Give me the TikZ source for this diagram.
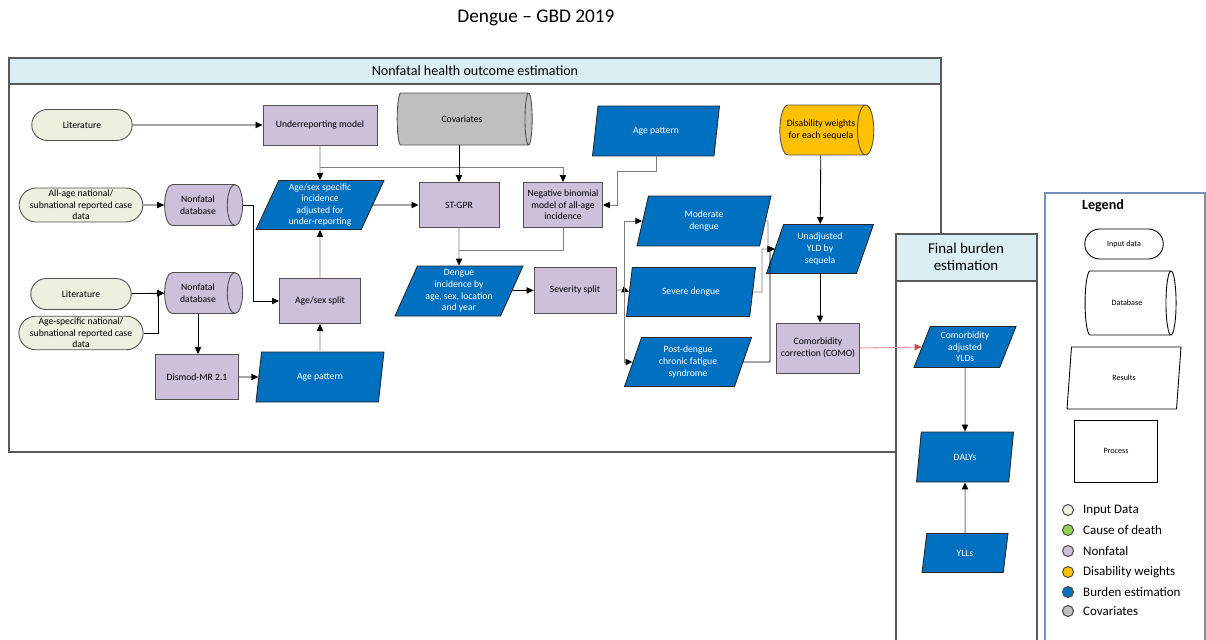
\documentclass[tikz,border=0pt]{standalone}
\usepackage{fontspec}
\setmainfont{Carlito}
\usepackage{tikz}
\usetikzlibrary{shapes.geometric, shapes.misc, arrows.meta, positioning}

\definecolor{inputc}{HTML}{EBF1DE}
\definecolor{codc}{HTML}{92D050}
\definecolor{nonfatalc}{HTML}{CCC0DA}
\definecolor{dwc}{HTML}{FFC000}
\definecolor{burdenc}{HTML}{0070C0}
\definecolor{covc}{HTML}{BFBFBF}
\definecolor{headc}{HTML}{DAEEF3}
\definecolor{bordc}{HTML}{505050}
\definecolor{lineg}{HTML}{7F7F7F}
\definecolor{legc}{HTML}{7391BD}
\definecolor{comoc}{HTML}{E6A3A3}
\definecolor{comotip}{HTML}{C0504D}

\newcommand{\flowfont}{\fontsize{5.5}{6.6}\selectfont}
\newcommand{\legfont}{\fontsize{4.6}{5.6}\selectfont}

\tikzstyle{inputdata} = [rounded rectangle, 
minimum width=2.08cm, 
minimum height=0.62cm, 
inner sep=1pt,
align=center, 
fill=inputc, draw=bordc, line width=0.5pt, font=\flowfont]
% cylinder: width is the diameter, height the length
\tikzstyle{database} = [cylinder, 
shape aspect=0.7,
minimum width=0.82cm, 
minimum height=1.56cm, 
inner sep=1pt,
align=center, 
fill=nonfatalc, draw=bordc, line width=0.5pt, font=\flowfont]
\tikzstyle{process} = [rectangle, 
minimum width=1.62cm, 
minimum height=0.9cm, 
inner sep=1pt,
align=center, 
fill=nonfatalc, draw=bordc, line width=0.5pt, font=\flowfont]
\tikzstyle{results} = [trapezium, 
trapezium stretches body=true,
trapezium left angle=64, 
trapezium right angle=116, 
minimum width=2.56cm, 
minimum height=1cm, 
inner sep=1pt,
align=center, text=white,
fill=burdenc, draw=black!85, line width=0.5pt, font=\flowfont]
\tikzstyle{panel} = [draw=black!65, line width=0.7pt]
\tikzstyle{headtext} = [font=\fontsize{8}{9.6}\selectfont]
\tikzstyle{legdot} = [circle, minimum size=0.22cm, inner sep=0pt, draw=bordc, line width=0.6pt]
\tikzstyle{legtext} = [anchor=west, inner sep=0pt, font=\fontsize{7.4}{9}\selectfont]
\tikzstyle{arrow} = [line width=0.5pt, draw=black, -{Triangle[length=4pt,width=3.6pt]}]
\tikzstyle{arrowg} = [line width=0.55pt, draw=lineg, -{Triangle[length=4pt,width=3.6pt,color=black]}]

\begin{document}
\begin{tikzpicture}[x=0.02cm, y=-0.02cm]
        \useasboundingbox (0,0) rectangle (1206,639);

        % --- Title and panels ---
        \node (title) at (536,18) {\fontsize{11}{13}\selectfont Dengue – GBD 2019};

        \draw[panel] (9,58) rectangle (941,452);
        \draw[panel, fill=headc] (9,58) rectangle (941,84);
        \node (nfhead) [headtext] at (475,71) {Nonfatal health outcome estimation};

        \filldraw[panel, fill=white] (896,645) -- (896,234) -- (1037,234) -- (1037,645);
        \draw[panel, fill=headc] (896,234) rectangle (1037,281);
        \node (fbhead) [headtext, align=center, font=\fontsize{8.5}{10}\selectfont] at (966,257) {Final burden\\estimation};

        \draw[draw=legc, line width=0.7pt] (1205,645) -- (1205,193) -- (1045,193) -- (1045,645);

        % --- Input data and databases ---
        \node (lit1) [inputdata] at (82,125) {Literature};
        \node (allage) [inputdata, minimum height=0.68cm] at (81,205) {All-age national/\\subnational reported case\\data};
        \node (lit2) [inputdata] at (81,294) {Literature};
        \node (agespec) [inputdata, minimum height=0.66cm] at (81,333) {Age-specific national/\\subnational reported case\\data};
        \node (nf1) [database] at (198,205) {Nonfatal\\database};
        \node (nf2) [database] at (198,293) {Nonfatal\\database};
        \node (covariates) [database, fill=covc, minimum width=1.04cm, minimum height=2.7cm] at (462,119) {Covariates};
        \node (disab) [database, fill=dwc, minimum width=1cm, minimum height=1.86cm] at (821,130) {Disability weights\\for each sequela};

        % --- Processes ---
        \node (underrep) [process, minimum width=2.28cm, minimum height=0.8cm] at (320,125) {Underreporting model};
        \node (stgpr) [process, minimum width=1.6cm] at (459,205) {ST-GPR};
        \node (negbin) [process, minimum width=1.58cm] at (563,205) {Negative binomial\\model of all-age\\incidence};
        \node (agesexsplit) [process] at (320,301) {Age/sex split};
        \node (dismod) [process, minimum width=1.66cm] at (197,377) {Dismod-MR 2.1};
        \node (severity) [process, minimum width=1.64cm, minimum height=0.92cm] at (575,290) {Severity split};
        \node (como) [process, minimum width=1.66cm, minimum height=1cm] at (818,348) {Comorbidity\\correction (COMO)};

        % --- Results ---
        \node (agepat1) [results, minimum width=2.54cm] at (656,131) {Age pattern};
        \node (agesexadj) [results, minimum height=0.98cm] at (320,205) {Age/sex specific\\incidence\\adjusted for\\under-reporting};
        \node (agepat2) [results] at (320,377) {Age pattern};
        \node (dengueinc) [results] at (459,291) {Dengue\\incidence by\\age, sex, location\\and year};
        \node (moderate) [results, minimum width=2.68cm] at (704,221) {Moderate\\dengue};
        \node (severe) [results, minimum width=2.58cm, minimum height=0.98cm] at (691,292) {Severe dengue};
        \node (postdengue) [results, minimum width=2.54cm, minimum height=0.98cm] at (688,362) {Post-dengue\\chronic fatigue\\syndrome};
        \node (unadj) [results, minimum width=2.14cm, minimum height=0.98cm] at (820,249) {Unadjusted\\YLD by\\sequela};
        \node (comoadj) [results, minimum width=2.04cm, minimum height=0.82cm] at (965,347) {Comorbidity\\adjusted\\YLDs};
        \node (dalys) [results, minimum width=1.94cm] at (965,457) {DALYs};
        \node (ylls) [results, minimum width=1.72cm, minimum height=0.78cm] at (965,553) {YLLs};

        % --- Connections ---
        \draw [arrow] (lit1) -- (underrep);
        \draw [arrow] (allage) -- (nf1);
        \draw [arrow] (lit2) -- (nf2);
        \draw [arrow] (agespec.east) -- ++(15,0) |- (nf2.west);
        \draw [arrow] (nf1.east) -- ++(10,0) |- (agesexsplit.west);
        \draw [arrow] (nf2.south) -- (nf2.south |- dismod.north);
        \draw [arrow] (dismod) -- (agepat2);
        \draw [arrowg] (agepat2) -- (agesexsplit);
        \draw [arrowg] (agesexsplit) -- (agesexadj);

        \coordinate (urj) at (320,167);
        \draw [arrowg] (underrep) -- (agesexadj);
        \draw [arrowg] (urj) -| (negbin.north);
        \draw [arrow] (stgpr.north |- covariates.south) -- (stgpr.north);
        \draw [arrow] (agesexadj) -- (stgpr);
        \draw [arrowg] (agepat1.south) |- ++(-39,15) |- (negbin.east);

        \draw [arrowg] (stgpr.south) -- (dengueinc.north);
        \draw [draw=lineg, line width=0.55pt] (negbin.south) |- ++(-104,23);
        \draw [arrow] (dengueinc) -- (severity);

        % --- Severity split into sequelae ---
        \coordinate (svj) at (624,290);
        \draw [arrowg] (severity.east) -- (svj) -- (severe.west);
        \draw [arrowg] (svj) |- (moderate.west);
        \draw [arrowg] (svj) |- (postdengue.west);
        \draw [arrowg] (severe.east) -| (762,249) -- (unadj.west);
        \draw [arrowg] (moderate.east) -| (768,249) -- (unadj.west);
        \draw [arrow] (postdengue.east) -| (770,249) -- (unadj.west);

        \draw [arrow] (disab) -- (unadj);
        \draw [arrow] (unadj.south) -- (unadj.south |- como.north);
        \draw [line width=0.6pt, draw=comoc, -{Triangle[length=4pt,width=3.6pt,color=comotip]}] (como.east) -- (comoadj.west);

        % --- Final burden ---
        \draw [arrowg] (comoadj) -- (dalys);
        \draw [arrowg] (ylls) -- (dalys);

        % --- Legend ---
        \node (legtitle) at (1103,206) {\fontsize{8}{9.6}\selectfont\bfseries Legend};
        \node (leginput) [inputdata, fill=white, draw=black, minimum width=1.64cm, minimum height=0.6cm, font=\legfont] at (1124,244) {Input data};
        \node (legdb) [database, fill=white, draw=black, shape aspect=1.1, minimum width=1.28cm, minimum height=1.82cm, font=\legfont] at (1127,303) {Database};
        \node (legres) [results, fill=white, draw=black, text=black, minimum width=2.28cm, minimum height=1.24cm, font=\legfont] at (1124,378) {Results};
        \node (legproc) [process, fill=white, draw=black, minimum width=1.66cm, minimum height=1.24cm, font=\legfont] at (1116,451) {Process};

        \node (dot1) [legdot, fill=inputc] at (1068,510) {};
        \node (dot2) [legdot, fill=codc] at (1068,530) {};
        \node (dot3) [legdot, fill=nonfatalc] at (1068,551) {};
        \node (dot4) [legdot, fill=dwc] at (1068,572) {};
        \node (dot5) [legdot, fill=burdenc] at (1068,592) {};
        \node (dot6) [legdot, fill=covc] at (1068,611) {};
        \node (txt1) [legtext, right=5pt of dot1] {Input Data};
        \node (txt2) [legtext, right=5pt of dot2] {Cause of death};
        \node (txt3) [legtext, right=5pt of dot3] {Nonfatal};
        \node (txt4) [legtext, right=5pt of dot4] {Disability weights};
        \node (txt5) [legtext, right=5pt of dot5] {Burden estimation};
        \node (txt6) [legtext, right=5pt of dot6] {Covariates};

\end{tikzpicture}
\end{document}
